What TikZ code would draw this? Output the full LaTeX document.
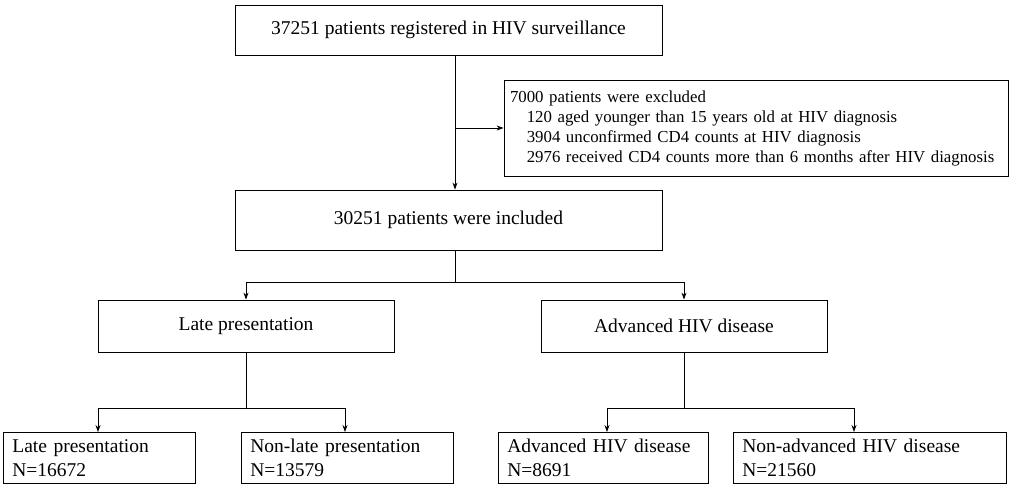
\documentclass[tikz,border=0pt]{standalone}
\usepackage{fontspec}
\setmainfont{Liberation Serif}
\usetikzlibrary{arrows.meta}
\begin{document}
\begin{tikzpicture}[x=1pt,y=-1pt,
  box/.style={draw,line width=0.8pt,inner sep=0pt,font=\fontsize{19.5}{23.5}\selectfont},
  arr/.style={line width=0.8pt,-{Stealth[length=7pt,width=5pt]}},
  ln/.style={line width=0.8pt}]
\useasboundingbox (0,0) rectangle (1013,485);
\node[box,minimum width=427,minimum height=50] (top) at (448.5,30) {37251 patients registered in HIV surveillance};
\node[box,minimum width=504,minimum height=96,align=left,text width=492,font=\fontsize{16.8}{20}\selectfont] (exc) at (756,128) {7000 patients were excluded\\
\quad 120 aged younger than 15 years old at HIV diagnosis\\
\quad 3904 unconfirmed CD4 counts at HIV diagnosis\\
\quad 2976 received CD4 counts more than 6 months after HIV diagnosis};
\node[box,minimum width=427,minimum height=60] (inc) at (448.5,220) {30251 patients were included};
\node[box,minimum width=296,minimum height=52] (lp) at (246,326) {Late presentation};
\node[box,minimum width=286,minimum height=52] (ahd) at (684,326) {Advanced HIV disease};
\tikzset{bb/.style={box,minimum height=51,align=left,anchor=north west,inner xsep=9pt}}
\node[bb,minimum width=192,text width=174] (b1) at (3,432) {Late presentation\\N=16672};
\node[bb,minimum width=212,text width=194] (b2) at (241,432) {Non-late presentation\\N=13579};
\node[bb,minimum width=210,text width=192] (b3) at (498,432) {Advanced HIV disease\\N=8691};
\node[bb,minimum width=273,text width=255] (b4) at (733,432) {Non-advanced HIV disease\\N=21560};
\coordinate (j1) at (455,128);
\draw[arr] (top.south -| j1) -- (inc.north -| j1);
\draw[arr] (j1) -- (exc.west);
\coordinate (j2) at (455,282);
\draw[ln] (inc.south -| j2) -- (j2);
\draw[arr] (j2) -| (lp.north);
\draw[arr] (j2) -| (ahd.north);
\coordinate (j3) at (246,408);
\draw[ln] (lp.south) -- (j3);
\draw[arr] (j3) -| (98,432);
\draw[arr] (j3) -| (345,432);
\coordinate (j4) at (684,408);
\draw[ln] (ahd.south) -- (j4);
\draw[arr] (j4) -| (607,432);
\draw[arr] (j4) -| (854,432);
\end{tikzpicture}
\end{document}
